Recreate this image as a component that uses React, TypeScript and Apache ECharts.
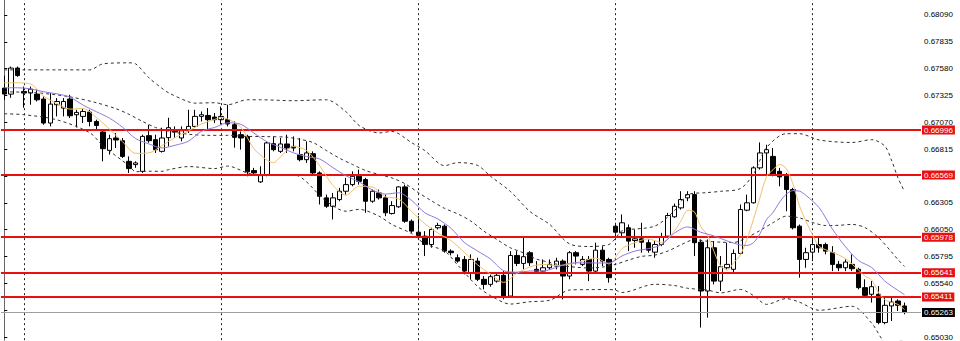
import React, { useEffect, useRef } from "react";
import * as echarts from "echarts";

// bar index -> [open, high, low, close]
const ohlc: number[][] = [
  [0.67395, 0.67514, 0.67284, 0.67338], [0.67338, 0.676, 0.67303, 0.67585], [0.67585, 0.676, 0.67502, 0.67514],
  [0.67363, 0.6741, 0.67208, 0.67348], [0.67348, 0.6741, 0.67237, 0.67385], [0.67338, 0.67379, 0.67268, 0.67284],
  [0.67291, 0.67315, 0.67047, 0.67063], [0.67063, 0.67348, 0.67031, 0.67243], [0.67237, 0.673, 0.67126, 0.67268],
  [0.67205, 0.673, 0.67126, 0.67268], [0.67291, 0.67331, 0.67111, 0.67132], [0.67142, 0.67189, 0.67021, 0.67164],
  [0.67126, 0.67205, 0.67063, 0.67173], [0.67167, 0.67189, 0.67031, 0.67078], [0.67078, 0.67095, 0.6699, 0.6704],
  [0.66978, 0.67, 0.66699, 0.66819], [0.66803, 0.66952, 0.66763, 0.66914], [0.66921, 0.66968, 0.66826, 0.66902],
  [0.66895, 0.66921, 0.66731, 0.66746], [0.66699, 0.66746, 0.66589, 0.6663], [0.66668, 0.66699, 0.66637, 0.66684],
  [0.66604, 0.66952, 0.66589, 0.66936], [0.66943, 0.67047, 0.66876, 0.66895], [0.66905, 0.66952, 0.66779, 0.6681],
  [0.66794, 0.67019, 0.66782, 0.66921], [0.66924, 0.67113, 0.66841, 0.67019], [0.67, 0.67031, 0.66921, 0.66978],
  [0.66921, 0.67031, 0.66889, 0.6699], [0.6699, 0.67189, 0.66968, 0.67031], [0.67031, 0.67189, 0.67019, 0.67126],
  [0.67126, 0.67173, 0.67078, 0.67142], [0.67135, 0.67205, 0.67, 0.67095], [0.6712, 0.67158, 0.67063, 0.67095],
  [0.67095, 0.6722, 0.67047, 0.67126], [0.67095, 0.67237, 0.67031, 0.67054], [0.67047, 0.67078, 0.66829, 0.66927],
  [0.66952, 0.66983, 0.6681, 0.66921], [0.66936, 0.66952, 0.66557, 0.66599], [0.66611, 0.66637, 0.66573, 0.66589],
  [0.66504, 0.66652, 0.66494, 0.66564], [0.66573, 0.66889, 0.66557, 0.66874], [0.66867, 0.66936, 0.66794, 0.6681],
  [0.66794, 0.66921, 0.66779, 0.66864], [0.66864, 0.66952, 0.66779, 0.66826], [0.66841, 0.66936, 0.66794, 0.66826],
  [0.66763, 0.66921, 0.66699, 0.66715], [0.66715, 0.66889, 0.66684, 0.66779], [0.66772, 0.66794, 0.66573, 0.66589],
  [0.66589, 0.66604, 0.66289, 0.66367], [0.66352, 0.66383, 0.66257, 0.66272], [0.66272, 0.66399, 0.66147, 0.66352],
  [0.66336, 0.66447, 0.6632, 0.66415], [0.66415, 0.66542, 0.66383, 0.66478], [0.66478, 0.66604, 0.66462, 0.66557],
  [0.66557, 0.66621, 0.66478, 0.66509], [0.66526, 0.66542, 0.6621, 0.6632], [0.6632, 0.66431, 0.66305, 0.66415],
  [0.66399, 0.66431, 0.66336, 0.66352], [0.66352, 0.66383, 0.66178, 0.6621], [0.66203, 0.6632, 0.66194, 0.66279],
  [0.66267, 0.66462, 0.66257, 0.66456], [0.66456, 0.66478, 0.66115, 0.6613], [0.6613, 0.66147, 0.6602, 0.66036],
  [0.66026, 0.66178, 0.65957, 0.65995], [0.65988, 0.66036, 0.65799, 0.65909], [0.65909, 0.66068, 0.65878, 0.66052],
  [0.66068, 0.66115, 0.66052, 0.6609], [0.66083, 0.66099, 0.65831, 0.65846], [0.65846, 0.65862, 0.65805, 0.65831],
  [0.65783, 0.65815, 0.65736, 0.65751], [0.65767, 0.65799, 0.65625, 0.65656], [0.65641, 0.65815, 0.65578, 0.65767],
  [0.65751, 0.65783, 0.65561, 0.65578], [0.65578, 0.65609, 0.65483, 0.6553], [0.6553, 0.65625, 0.65508, 0.65603],
  [0.65561, 0.65641, 0.65546, 0.65616], [0.65616, 0.65656, 0.65388, 0.65419], [0.65419, 0.65846, 0.65404, 0.65805],
  [0.65805, 0.65846, 0.65704, 0.65729], [0.65729, 0.65973, 0.65673, 0.65793], [0.65831, 0.65846, 0.65704, 0.65736],
  [0.65673, 0.65751, 0.65641, 0.65653], [0.65656, 0.65767, 0.65641, 0.65688], [0.65688, 0.65767, 0.65673, 0.6572],
  [0.65704, 0.65783, 0.65673, 0.65751], [0.65751, 0.65767, 0.65388, 0.65609], [0.65609, 0.65846, 0.65578, 0.65831],
  [0.65831, 0.65846, 0.6572, 0.65799], [0.6572, 0.65799, 0.65704, 0.65767], [0.65767, 0.65799, 0.65561, 0.65656],
  [0.65656, 0.65926, 0.65641, 0.65855], [0.65855, 0.65893, 0.65704, 0.65751], [0.65767, 0.65783, 0.65546, 0.65594],
  [0.66083, 0.66115, 0.65988, 0.66026], [0.6602, 0.66194, 0.65988, 0.66115], [0.66068, 0.66099, 0.65846, 0.65941],
  [0.65947, 0.66052, 0.65878, 0.65963], [0.65963, 0.66115, 0.65831, 0.65931], [0.65926, 0.65957, 0.65831, 0.65855],
  [0.65836, 0.65941, 0.65783, 0.65909], [0.65909, 0.6602, 0.65893, 0.65982], [0.65988, 0.6621, 0.65973, 0.66184],
  [0.66172, 0.66298, 0.66163, 0.66272], [0.66257, 0.66415, 0.66241, 0.66336], [0.66352, 0.66415, 0.6632, 0.66383],
  [0.66383, 0.66415, 0.65799, 0.65926], [0.65931, 0.65957, 0.6512, 0.65467], [0.65467, 0.65957, 0.65214, 0.65878],
  [0.65878, 0.65941, 0.6553, 0.65561], [0.65561, 0.65799, 0.65467, 0.65698], [0.65688, 0.65926, 0.65673, 0.6572],
  [0.65673, 0.65862, 0.65641, 0.65824], [0.65824, 0.66289, 0.65815, 0.66241], [0.66235, 0.66383, 0.66225, 0.66305],
  [0.66305, 0.66652, 0.66298, 0.66637], [0.66637, 0.66879, 0.66621, 0.66779], [0.66779, 0.66857, 0.66573, 0.6681],
  [0.66746, 0.66826, 0.66557, 0.66573], [0.66604, 0.66637, 0.66462, 0.66551], [0.66557, 0.66589, 0.66225, 0.66431],
  [0.66431, 0.66447, 0.66052, 0.66068], [0.66083, 0.66099, 0.65594, 0.65767], [0.65767, 0.65878, 0.65688, 0.65831],
  [0.65836, 0.65973, 0.65751, 0.65909], [0.65909, 0.65973, 0.65831, 0.65878], [0.65909, 0.65926, 0.65815, 0.65846],
  [0.65831, 0.65893, 0.65656, 0.6572], [0.6572, 0.65751, 0.65656, 0.65688], [0.65688, 0.65767, 0.65656, 0.65742],
  [0.6572, 0.65815, 0.65656, 0.65679], [0.65673, 0.65688, 0.65483, 0.65499], [0.65499, 0.65578, 0.65404, 0.65426],
  [0.65436, 0.65561, 0.65357, 0.65508], [0.65436, 0.65514, 0.65151, 0.65167], [0.65167, 0.65404, 0.65151, 0.65331],
  [0.65325, 0.65404, 0.65182, 0.65362], [0.65372, 0.65388, 0.65277, 0.65331], [0.65325, 0.65357, 0.65246, 0.65263],
];

const slotCount = 140;
const categories = Array.from({ length: slotCount }, (_, i) => String(i));

// indicator lines: [bar index, price]
const bandUpper: number[][] = [
  [0, 0.67568], [3, 0.67568], [8, 0.67568], [13, 0.67568], [15, 0.67625], [19, 0.67635], [20, 0.67625],
  [22, 0.67493], [24, 0.67393], [25, 0.6735], [28, 0.67265], [29, 0.67252], [32, 0.67256], [34, 0.67237],
  [37, 0.67284], [39, 0.67284], [44, 0.67275], [49, 0.67284], [52, 0.6717], [54, 0.6704], [57, 0.66969],
  [59, 0.66983], [62, 0.66876], [64, 0.66801], [67, 0.66658], [69, 0.66687], [72, 0.66661], [74, 0.66557],
  [77, 0.66414], [80, 0.66222], [83, 0.66099], [86, 0.65915], [89, 0.6589], [92, 0.65909], [93, 0.65966],
  [94, 0.66038], [99, 0.66084], [102, 0.66232], [104, 0.66383], [107, 0.66402], [109, 0.66414],
  [112, 0.6644], [114, 0.66577], [116, 0.66829], [119, 0.66962], [121, 0.66962], [124, 0.66902],
  [129, 0.66878], [132, 0.66905], [134, 0.66844], [135, 0.66712], [136, 0.66542], [137, 0.66411],
];
const bandMiddle: number[][] = [
  [0, 0.6736], [5, 0.6735], [10, 0.67312], [14, 0.67256], [17, 0.67199], [19, 0.67145], [21, 0.67079],
  [23, 0.67021], [25, 0.66985], [28, 0.66957], [31, 0.66946], [34, 0.66946], [37, 0.66936], [40, 0.66934],
  [43, 0.66928], [45, 0.66908], [47, 0.66877], [49, 0.66802], [51, 0.66729], [53, 0.66669], [55, 0.66611],
  [57, 0.66574], [59, 0.66541], [61, 0.66486], [63, 0.66402], [65, 0.66324], [67, 0.66252], [69, 0.662],
  [71, 0.66132], [73, 0.66035], [75, 0.65955], [77, 0.65878], [79, 0.6583], [81, 0.6577], [83, 0.65739],
  [85, 0.65708], [87, 0.65693], [89, 0.65686], [91, 0.65694], [93, 0.6572], [95, 0.65761], [97, 0.65796],
  [99, 0.65808], [101, 0.65847], [103, 0.65907], [105, 0.65954], [107, 0.6594], [109, 0.65931],
  [111, 0.65928], [113, 0.65975], [115, 0.66042], [117, 0.66117], [119, 0.66178], [121, 0.66162],
  [123, 0.66118], [125, 0.66089], [127, 0.66091], [129, 0.661], [131, 0.66069], [133, 0.65976],
  [135, 0.65839], [136, 0.65765], [137, 0.657],
];
const bandLower: number[][] = [
  [0, 0.67151], [3, 0.67142], [8, 0.67094], [13, 0.66971], [15, 0.66848], [19, 0.66656], [20, 0.66601],
  [22, 0.66605], [24, 0.66604], [25, 0.6662], [28, 0.66649], [29, 0.66647], [32, 0.6663], [34, 0.66654],
  [37, 0.66588], [39, 0.66564], [44, 0.66571], [49, 0.6632], [52, 0.66225], [54, 0.66243], [57, 0.66179],
  [59, 0.66099], [62, 0.66012], [64, 0.65915], [67, 0.65847], [69, 0.65713], [72, 0.65512], [74, 0.65423],
  [77, 0.65343], [80, 0.65365], [83, 0.65379], [86, 0.65476], [89, 0.6548], [92, 0.65481], [93, 0.65475],
  [94, 0.65453], [99, 0.65531], [102, 0.65519], [104, 0.65493], [107, 0.65476], [109, 0.65449],
  [112, 0.65482], [114, 0.65424], [116, 0.6534], [119, 0.65395], [121, 0.65361], [124, 0.65284],
  [129, 0.65322], [132, 0.65161], [134, 0.64977], [135, 0.64966], [136, 0.64989], [137, 0.64989],
];
const maFast: number[][] = [
  [0, 0.67445], [2, 0.67445], [4, 0.67434], [6, 0.67319], [8, 0.67249], [10, 0.67195], [12, 0.67201],
  [14, 0.67117], [16, 0.67005], [18, 0.66885], [20, 0.66775], [22, 0.66779], [24, 0.66849], [26, 0.66925],
  [28, 0.66987], [30, 0.67054], [32, 0.67097], [33, 0.67116], [34, 0.67102], [36, 0.67024], [38, 0.66818],
  [40, 0.6671], [41, 0.66687], [42, 0.6674], [44, 0.6684], [46, 0.66802], [48, 0.66656], [50, 0.66472],
  [52, 0.66377], [54, 0.66462], [56, 0.66455], [58, 0.66362], [60, 0.66343], [62, 0.66222], [64, 0.66106],
  [66, 0.66017], [68, 0.65945], [70, 0.65835], [72, 0.65717], [74, 0.65627], [76, 0.65549], [78, 0.65634],
  [80, 0.65696], [82, 0.6572], [84, 0.65709], [86, 0.6572], [88, 0.65751], [90, 0.65781], [92, 0.65724],
  [94, 0.65869], [96, 0.65927], [98, 0.65962], [100, 0.65928], [102, 0.66041], [103, 0.66137],
  [104, 0.66232], [105, 0.6622], [106, 0.66077], [107, 0.65998], [108, 0.65843], [109, 0.65706],
  [110, 0.65665], [111, 0.65736], [112, 0.65809], [113, 0.65958], [114, 0.66146], [115, 0.66357],
  [116, 0.66554], [117, 0.6662], [118, 0.6667], [119, 0.66629], [120, 0.66487], [121, 0.66278],
  [122, 0.66129], [123, 0.66001], [124, 0.6589], [126, 0.65836], [128, 0.65775], [130, 0.65666],
  [131, 0.65607], [132, 0.65571], [133, 0.65456], [134, 0.65386], [135, 0.65359], [136, 0.6534],
  [137, 0.6529],
];
const maSlow: number[][] = [
  [0, 0.67398], [2, 0.67398], [4, 0.67388], [6, 0.6736], [8, 0.67341], [10, 0.67309], [12, 0.67233],
  [14, 0.67171], [16, 0.6711], [18, 0.67023], [20, 0.66915], [22, 0.66865], [24, 0.66826], [26, 0.66852],
  [28, 0.6689], [30, 0.66984], [32, 0.67021], [34, 0.67065], [36, 0.67051], [38, 0.66967], [40, 0.66884],
  [42, 0.66833], [44, 0.6678], [46, 0.66745], [48, 0.66721], [50, 0.6664], [52, 0.66562], [54, 0.66504],
  [56, 0.66427], [58, 0.66388], [60, 0.664], [62, 0.66327], [64, 0.6621], [66, 0.66151], [68, 0.66062],
  [70, 0.65929], [72, 0.65848], [74, 0.6577], [76, 0.6566], [78, 0.65646], [80, 0.65657], [82, 0.65657],
  [84, 0.65691], [86, 0.65731], [88, 0.65735], [90, 0.65733], [92, 0.65733], [94, 0.658], [96, 0.65847],
  [98, 0.65869], [100, 0.65907], [102, 0.66018], [104, 0.66076], [106, 0.66025], [108, 0.6599],
  [110, 0.65943], [112, 0.65904], [113, 0.659], [114, 0.65926], [115, 0.66011], [116, 0.66146],
  [117, 0.66215], [118, 0.66313], [119, 0.66387], [120, 0.66421], [121, 0.66416], [122, 0.66375],
  [124, 0.66259], [126, 0.66057], [128, 0.65888], [130, 0.65756], [132, 0.6569], [134, 0.65561],
  [136, 0.65473], [137, 0.65431],
];

const levelLines = [0.66996, 0.66569, 0.65978, 0.65641, 0.65411];
const lastPrice = 0.65263;
const priceTicks = [0.6809, 0.67835, 0.6758, 0.67325, 0.6707, 0.66815, 0.6656, 0.66305, 0.6605, 0.65795, 0.6554, 0.65285, 0.6503];
const dayBars = [3, 33, 63, 93, 123];

export default function App() {
  const ref = useRef<HTMLDivElement>(null);
  useEffect(() => {
    document.body.style.margin = "0";
    if (!ref.current) return;
    const chart = echarts.init(ref.current, null, { renderer: "svg" });
    const font = "Liberation Sans, Arial, sans-serif";
    const bandStyle = { color: "#333", width: 1, type: [3, 3] as any };
    const mkBand = (name: string, data: number[][]) => ({
      name, type: "line", xAxisIndex: 1, yAxisIndex: 0, data, symbol: "none", smooth: 0.3,
      lineStyle: bandStyle, z: 4, silent: true,
    });
    const boxLabel = (text: string, bg: string) => ({
      show: true, position: "end", distance: 1, formatter: text, color: "#fff",
      backgroundColor: bg, padding: [1, 2, 0, 2], fontSize: 8, fontFamily: font,
    });
    chart.setOption({
      animation: false,
      backgroundColor: "#fff",
      grid: { left: 1, right: 39, top: 0, bottom: 0, containLabel: false },
      xAxis: [
        { type: "category", data: categories, boundaryGap: true, show: false },
        { type: "value", min: -0.5, max: slotCount - 0.5, show: false },
      ],
      yAxis: {
        type: "value", position: "right", min: 0.65, max: 0.68232, scale: true,
        splitLine: { show: false },
        axisLine: { show: true, lineStyle: { color: "#666", width: 1 } },
        axisTick: { show: true, length: 3, inside: false, customValues: priceTicks, lineStyle: { color: "#000" } },
        axisLabel: {
          customValues: priceTicks, formatter: (v: number) => v.toFixed(5), fontSize: 8,
          fontFamily: font, color: "#000", margin: 3,
        },
      },
      series: [
        {
          name: "grid", type: "line", xAxisIndex: 1, data: [], symbol: "none", z: 1, silent: true,
          markLine: {
            silent: true, symbol: "none", label: { show: false }, precision: 5,
            lineStyle: { color: "#222", width: 1, type: [2, 3] },
            data: dayBars.map((b) => ({ xAxis: b })),
          },
        },
        {
          name: "candles", type: "candlestick", xAxisIndex: 0, z: 3, barWidth: 5,
          data: ohlc.map((d) => [d[0], d[3], d[2], d[1]]),
          itemStyle: { color: "#fff", color0: "#000", borderColor: "#000", borderColor0: "#000", borderWidth: 1 },
        },
        mkBand("upper", bandUpper),
        mkBand("middle", bandMiddle),
        mkBand("lower", bandLower),
        {
          name: "fast", type: "line", xAxisIndex: 1, data: maFast, symbol: "none", smooth: 0.3, z: 5,
          lineStyle: { color: "#f2bf6e", width: 1 }, silent: true,
        },
        {
          name: "slow", type: "line", xAxisIndex: 1, data: maSlow, symbol: "none", smooth: 0.3, z: 5,
          lineStyle: { color: "#9378d8", width: 1 }, silent: true,
        },
        {
          name: "levels", type: "line", xAxisIndex: 1, data: [], symbol: "none", z: 6, silent: true,
          markLine: {
            silent: true, symbol: "none", precision: 5,
            data: [
              ...levelLines.map((v) => ({
                yAxis: v,
                lineStyle: { color: "#e81010", width: 2, type: "solid" },
                label: boxLabel(v.toFixed(5), "#e81010"),
              })),
              {
                yAxis: lastPrice,
                lineStyle: { color: "#a0a0a0", width: 1, type: "solid" },
                label: boxLabel(lastPrice.toFixed(5), "#000"),
              },
            ],
          },
        },
      ],
    });
    return () => chart.dispose();
  }, []);
  return <div ref={ref} style={{ width: 960, height: 341 }} />;
}
